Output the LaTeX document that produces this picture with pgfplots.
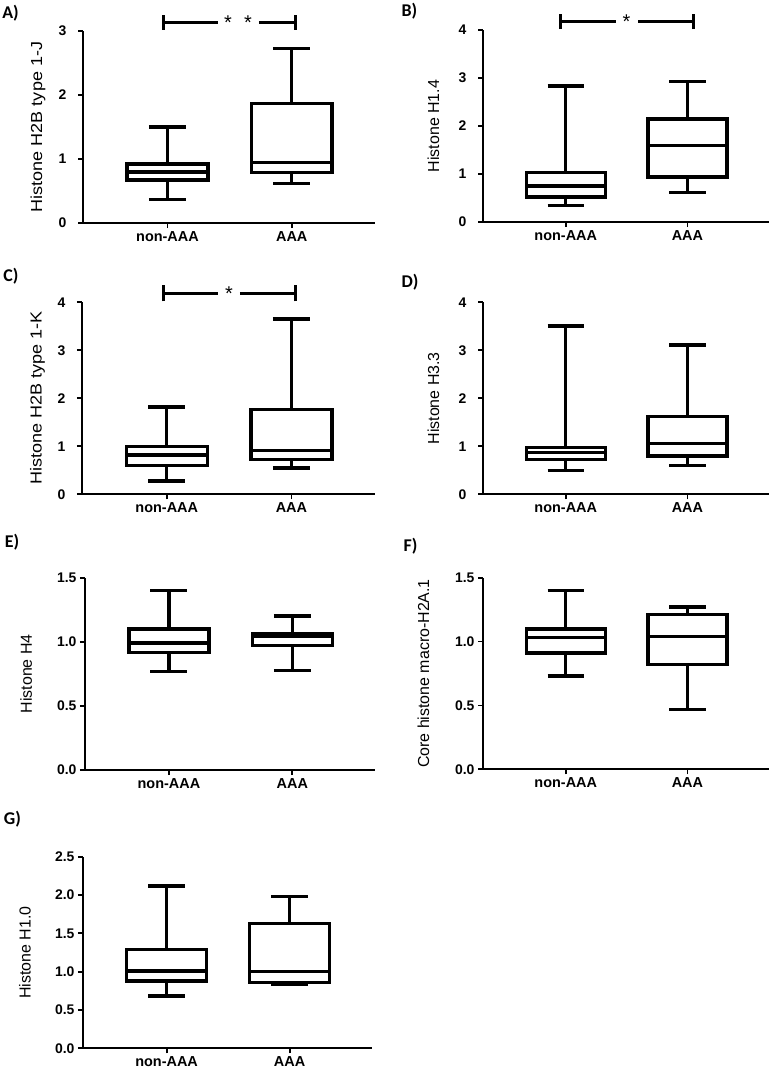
\documentclass[border=0pt]{standalone}
\usepackage{fontspec}
\setmainfont{Liberation Sans}
\newfontfamily\calib{Carlito}
\usepackage{pgfplots}
\pgfplotsset{compat=1.18}
\usepgfplotslibrary{statistics}

\tikzset{
  br/.style={line width=3bp},
  st/.style={font=\fontsize{20}{20}\selectfont},
}
\pgfplotsset{
  gp/.style={
    scale only axis,
    axis x line=bottom, axis y line=left,
    axis line style={-, line width=2bp},
    xmin=-0.68, xmax=1.67, ymin=0,
    xtick={0,1}, xticklabels={non-AAA,AAA},
    tick align=outside, major tick length=5bp,
    tick style={line width=1.8bp, black},
    xticklabel style={font=\fontsize{14.5}{16}\selectfont\bfseries},
    yticklabel style={font=\fontsize{14}{16}\selectfont\bfseries},
    /pgf/number format/assume math mode=true,
    every axis y label/.style={rotate=90, anchor=center, font=\fontsize{16}{18}\selectfont},
    boxplot/draw direction=y,
    boxplot/box extend=0.65,
    boxplot/whisker extend=0.3,
    clip=false,
    anchor=south west,
  },
  ylabx/.style={every axis y label/.append style={at={(axis description cs:#1,0.5)}}},
  onedec/.style={yticklabel style={/pgf/number format/.cd, fixed, fixed zerofill, precision=1}},
  far/.style={yticklabel style={xshift=-8bp}},
  bx/.style={black, line width=3.4bp, solid, boxplot prepared={#1}},
}

\begin{document}
\begin{tikzpicture}
\useasboundingbox (0,0) rectangle (773bp,-1072bp);

% ---------- A ----------
\begin{axis}[gp, far, at={(83bp,-223bp)}, width=292bp, height=192bp,
  ymax=3, ytick={0,1,2,3}, ylabel={\scalebox{1.13}[1]{Histone H2B type 1-J}}, ylabx=-0.154]
\addplot[bx={draw position=0, lower whisker=0.37, lower quartile=0.67, median=0.80, upper quartile=0.92, upper whisker=1.50}] coordinates {};
\addplot[bx={draw position=1, lower whisker=0.62, lower quartile=0.79, median=0.95, upper quartile=1.87, upper whisker=2.73}] coordinates {};
\draw[br] (axis cs:-0.036,3.13) -- (axis cs:0.406,3.13);
\draw[br] (axis cs:0.736,3.13) -- (axis cs:1.034,3.13);
\draw[br] (axis cs:-0.036,3.02) -- (axis cs:-0.036,3.25);
\draw[br] (axis cs:1.034,3.02) -- (axis cs:1.034,3.25);
\node[st] at (axis cs:0.487,3.13) {*};
\node[st] at (axis cs:0.648,3.13) {*};
\end{axis}

% ---------- B ----------
\begin{axis}[gp, far, at={(483bp,-222bp)}, width=286bp, height=192bp,
  ymax=4, ytick={0,1,2,3,4}, ylabel={Histone H1.4}, ylabx=-0.173]
\addplot[bx={draw position=0, lower whisker=0.34, lower quartile=0.52, median=0.75, upper quartile=1.03, upper whisker=2.83}] coordinates {};
\addplot[bx={draw position=1, lower whisker=0.62, lower quartile=0.94, median=1.60, upper quartile=2.15, upper whisker=2.93}] coordinates {};
\draw[br] (axis cs:-0.047,4.17) -- (axis cs:0.413,4.17);
\draw[br] (axis cs:0.594,4.17) -- (axis cs:1.046,4.17);
\draw[br] (axis cs:-0.047,4.02) -- (axis cs:-0.047,4.33);
\draw[br] (axis cs:1.046,4.02) -- (axis cs:1.046,4.33);
\node[st] at (axis cs:0.50,4.17) {*};
\end{axis}

% ---------- C ----------
\begin{axis}[gp, far, at={(82bp,-494.3bp)}, width=293bp, height=192bp,
  ymax=4, ytick={0,1,2,3,4}, ylabel={\scalebox{1.13}[1]{Histone H2B type 1-K}}, ylabx=-0.152]
\addplot[bx={draw position=0, lower whisker=0.28, lower quartile=0.60, median=0.82, upper quartile=0.99, upper whisker=1.82}] coordinates {};
\addplot[bx={draw position=1, lower whisker=0.55, lower quartile=0.73, median=0.91, upper quartile=1.77, upper whisker=3.65}] coordinates {};
\draw[br] (axis cs:-0.03,4.19) -- (axis cs:0.41,4.19);
\draw[br] (axis cs:0.587,4.19) -- (axis cs:1.036,4.19);
\draw[br] (axis cs:-0.03,4.02) -- (axis cs:-0.03,4.36);
\draw[br] (axis cs:1.036,4.02) -- (axis cs:1.036,4.36);
\node[st] at (axis cs:0.499,4.19) {*};
\end{axis}

% ---------- D ----------
\begin{axis}[gp, far, at={(483bp,-494.3bp)}, width=286bp, height=192bp,
  ymax=4, ytick={0,1,2,3,4}, ylabel={Histone H3.3}, ylabx=-0.173]
\addplot[bx={draw position=0, lower whisker=0.49, lower quartile=0.73, median=0.87, upper quartile=0.98, upper whisker=3.51}] coordinates {};
\addplot[bx={draw position=1, lower whisker=0.60, lower quartile=0.80, median=1.06, upper quartile=1.62, upper whisker=3.11}] coordinates {};
\end{axis}

% ---------- E ----------
\begin{axis}[gp, onedec, at={(85bp,-770bp)}, width=290bp, height=192.3bp,
  ymax=1.5, ytick={0,0.5,1,1.5}, ylabel={Histone H4}, ylabx=-0.203]
\addplot[bx={draw position=0, lower whisker=0.77, lower quartile=0.915, median=0.99, upper quartile=1.10, upper whisker=1.40}] coordinates {};
\addplot[bx={draw position=1, lower whisker=0.775, lower quartile=0.97, median=1.04, upper quartile=1.066, upper whisker=1.20}] coordinates {};
\end{axis}

% ---------- F ----------
\begin{axis}[gp, onedec, at={(483bp,-769.3bp)}, width=286bp, height=191.6bp,
  ymax=1.5, ytick={0,0.5,1,1.5}, ylabel={Core histone macro-H2A.1}, ylabx=-0.208]
\addplot[bx={draw position=0, lower whisker=0.73, lower quartile=0.91, median=1.03, upper quartile=1.10, upper whisker=1.40}] coordinates {};
\addplot[bx={draw position=1, lower whisker=0.47, lower quartile=0.82, median=1.04, upper quartile=1.21, upper whisker=1.27}] coordinates {};
\end{axis}

% ---------- G ----------
\begin{axis}[gp, onedec, at={(83bp,-1048.3bp)}, width=289bp, height=191.6bp,
  ymax=2.5, ytick={0,0.5,1,1.5,2,2.5}, ylabel={Histone H1.0}, ylabx=-0.201]
\addplot[bx={draw position=0, lower whisker=0.68, lower quartile=0.88, median=1.01, upper quartile=1.29, upper whisker=2.12}] coordinates {};
\addplot[bx={draw position=1, lower whisker=0.83, lower quartile=0.86, median=1.00, upper quartile=1.63, upper whisker=1.98}] coordinates {};
\end{axis}

% panel letters
\begin{scope}[every node/.style={font=\calib\bfseries\fontsize{18}{20}\selectfont}]
\node at (10.5bp,-13bp) {A)};
\node at (409.5bp,-11bp) {B)};
\node at (11bp,-276bp) {C)};
\node at (410bp,-282bp) {D)};
\node at (12bp,-542bp) {E)};
\node at (410.5bp,-546bp) {F)};
\node at (12.5bp,-819bp) {G)};
\end{scope}
\end{tikzpicture}
\end{document}
